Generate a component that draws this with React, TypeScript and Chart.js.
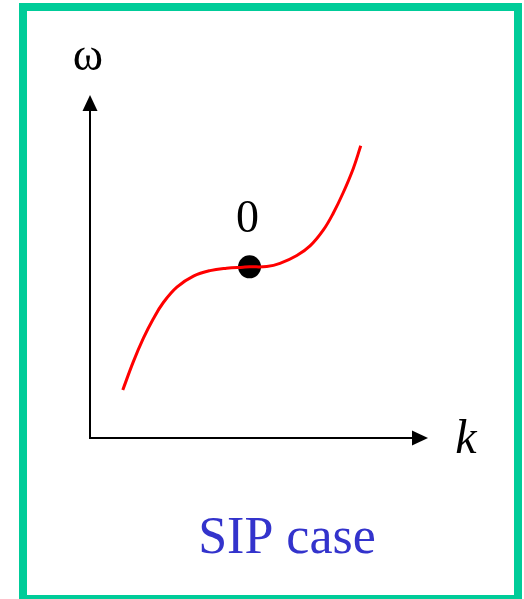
import React, { useEffect, useRef } from "react";
import { Chart, registerables } from "chart.js";

Chart.register(...registerables);

// wavenumber k and frequency omega (axis units 0..10)
const kValues = [0.97, 1.28, 1.58, 1.87, 2.17, 2.57, 3.06, 3.55, 4.04, 4.53, 4.72, 5.23, 5.62, 6.12, 6.51, 6.9, 7.2, 7.49, 7.79, 8.01];
const omegaValues = [1.4, 2.22, 2.91, 3.47, 3.95, 4.4, 4.72, 4.88, 4.95, 4.98, 4.99, 5.0, 5.09, 5.32, 5.6, 6.06, 6.56, 7.15, 7.86, 8.52];
const pointK = [4.72];
const pointOmega = [4.99];
const pointLabels = ["0"];
const xAxisLabel = "k";
const yAxisLabel = "ω";
const caption = "SIP case";

const W = 524;
const H = 599;

const overlayPlugin = {
  id: "overlay",
  afterDatasetsDraw(chart: any) {
    const { ctx, chartArea } = chart;
    const { left, right, top, bottom } = chartArea;
    ctx.save();
    ctx.strokeStyle = "#000";
    ctx.fillStyle = "#000";
    ctx.lineWidth = 2;
    // y axis
    ctx.beginPath();
    ctx.moveTo(left, bottom + 1);
    ctx.lineTo(left, top + 14);
    ctx.stroke();
    ctx.beginPath();
    ctx.moveTo(left, top);
    ctx.lineTo(left - 7.5, top + 16);
    ctx.lineTo(left + 7.5, top + 16);
    ctx.closePath();
    ctx.fill();
    // x axis
    ctx.beginPath();
    ctx.moveTo(left - 1, bottom);
    ctx.lineTo(right - 14, bottom);
    ctx.stroke();
    ctx.beginPath();
    ctx.moveTo(right, bottom);
    ctx.lineTo(right - 16, bottom - 7.5);
    ctx.lineTo(right - 16, bottom + 7.5);
    ctx.closePath();
    ctx.fill();
    // axis labels
    ctx.textAlign = "center";
    ctx.textBaseline = "alphabetic";
    ctx.font = '46px "Liberation Serif", "DejaVu Serif", serif';
    ctx.fillText(yAxisLabel, left - 2, top - 25);
    ctx.font = 'italic 48px "Liberation Serif", "DejaVu Serif", serif';
    ctx.fillText(xAxisLabel, right + 38, bottom + 15);
    // point labels
    const xs = chart.scales.x;
    const ys = chart.scales.y;
    ctx.font = '46px "Liberation Serif", "DejaVu Serif", serif';
    pointLabels.forEach((lab, i) => {
      ctx.fillText(lab, xs.getPixelForValue(pointK[i]) - 2, ys.getPixelForValue(pointOmega[i]) - 35);
    });
    // caption
    ctx.fillStyle = "#3333CC";
    ctx.font = '52px "Liberation Serif", "DejaVu Serif", serif';
    ctx.fillText(caption, (left + right) / 2 + 28, bottom + 115);
    ctx.restore();
  },
};

export default function App() {
  const ref = useRef<HTMLCanvasElement>(null);
  useEffect(() => {
    const canvas = ref.current;
    if (!canvas) return;
    const chart = new Chart(canvas, {
      type: "line",
      data: {
        datasets: [
          {
            data: kValues.map((k, i) => ({ x: k, y: omegaValues[i] })),
            borderColor: "#FF0000",
            borderWidth: 3,
            pointRadius: 0,
            tension: 0.4,
            borderCapStyle: "butt",
            borderJoinStyle: "round",
            fill: false,
          },
          {
            data: pointK.map((k, i) => ({ x: k, y: pointOmega[i] })),
            showLine: false,
            pointRadius: 11.5,
            pointBackgroundColor: "#000",
            pointBorderColor: "#000",
            pointBorderWidth: 0,
          },
        ],
      },
      options: {
        responsive: false,
        maintainAspectRatio: false,
        animation: false,
        events: [],
        layout: { padding: { left: 90, top: 95, right: W - 428, bottom: H - 438 } },
        plugins: { legend: { display: false }, tooltip: { enabled: false }, title: { display: false } },
        scales: {
          x: { type: "linear", min: 0, max: 10, display: false },
          y: { type: "linear", min: 0, max: 10, display: false },
        },
      },
      plugins: [overlayPlugin],
    });
    return () => chart.destroy();
  }, []);
  return (
    <div style={{ position: "fixed", left: 0, top: 0, width: W, height: H, overflow: "hidden", background: "#fff" }}>
      <div
        style={{
          position: "absolute",
          left: 19,
          top: 3,
          width: 503,
          height: 600,
          boxSizing: "border-box",
          border: "8px solid #00CC99",
        }}
      />
      <canvas ref={ref} width={W} height={H} style={{ position: "absolute", left: 0, top: 0, width: W, height: H }} />
    </div>
  );
}
